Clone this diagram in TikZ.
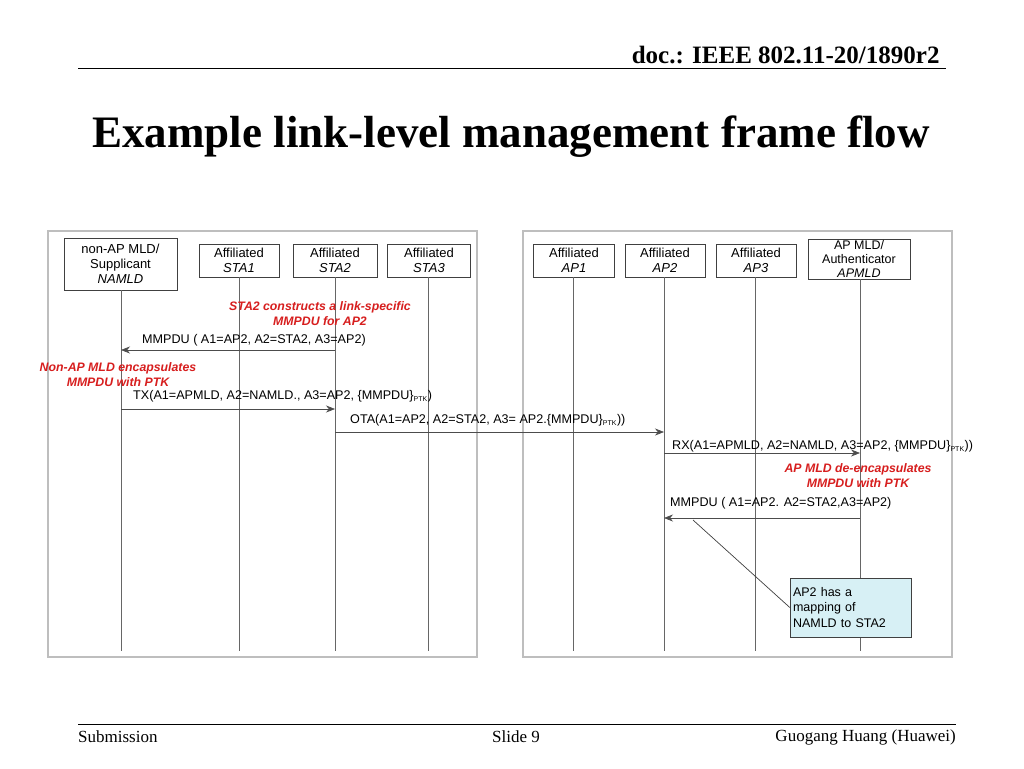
\documentclass[tikz,border=0pt]{standalone}
\usepackage{fontspec}
\setmainfont{Liberation Serif}
\newfontfamily\diag{Liberation Sans}
\usetikzlibrary{arrows, arrows.meta, positioning, calc}
\definecolor{redtxt}{RGB}{215,30,30}
\definecolor{notefill}{RGB}{215,240,245}
\definecolor{panelgray}{RGB}{190,190,190}
\tikzstyle{entity} = [rectangle, draw=black!75, fill=white, align=center, font=\diag\fontsize{13}{15}\selectfont, inner sep=1pt]
\tikzstyle{lifeline} = [draw=black!60, line width=0.6pt]
\tikzstyle{msg} = [black!70, line width=0.6pt, -{Stealth[length=9pt, width=7pt]}]
\tikzstyle{lbl} = [anchor=west, font=\diag\fontsize{12.6}{14}\selectfont, inner sep=0pt]
\tikzstyle{remark} = [text=redtxt, align=center, font=\diag\bfseries\itshape\fontsize{12.3}{15}\selectfont]
\tikzstyle{panel} = [draw=panelgray, line width=1.2pt, fill=white]

\begin{document}
\begin{tikzpicture}[x=1pt, y=-1pt]
    \useasboundingbox (0,0) rectangle (1024,768);
    % Header and title
    \node (doc) [anchor=east, font=\bfseries\fontsize{25}{28}\selectfont] at (943,55) {doc.: IEEE 802.11-20/1890r2};
    \draw [line width=1pt] (78,68) -- (946,68);
    \node (title) [font=\bfseries\fontsize{45}{50}\selectfont] at (511,137) {Example link-level management frame flow};

    % Panels
    \draw [panel] (48,231) rectangle (477,657);
    \draw [panel] (523,231) rectangle (952,657);

    % Entities
    \node (namld) [entity, minimum width=113pt, minimum height=52pt] at (120.5,264) {non-AP MLD/\\Supplicant\\\textit{NAMLD}};
    \node (sta1) [entity, minimum width=80pt, minimum height=33pt] at (239,260.5) {Affiliated\\\textit{STA1}};
    \node (sta2) [entity, minimum width=84pt, minimum height=33pt] at (335,260.5) {Affiliated\\\textit{STA2}};
    \node (sta3) [entity, minimum width=83pt, minimum height=33pt] at (429,260.5) {Affiliated\\\textit{STA3}};
    \node (ap1) [entity, minimum width=81pt, minimum height=33pt] at (574,260.5) {Affiliated\\\textit{AP1}};
    \node (ap2) [entity, minimum width=80pt, minimum height=33pt] at (665,260.5) {Affiliated\\\textit{AP2}};
    \node (ap3) [entity, minimum width=80pt, minimum height=33pt] at (756,260.5) {Affiliated\\\textit{AP3}};
    \node (apmld) [entity, minimum width=102pt, minimum height=40pt, font=\diag\fontsize{12.5}{14}\selectfont] at (859,259) {AP MLD/\\Authenticator\\\textit{APMLD}};

    % Lifelines
    \foreach \e/\x in {namld/121, sta1/239, sta2/335, sta3/428, ap1/573, ap2/664, ap3/755, apmld/860} {
        \coordinate (\e end) at (\x,651);
        \draw [lifeline] (\e.south -| \e end) -- (\e end);
    }

    % Messages
    \node (c1) [remark] at (320,314) {STA2 constructs a link-specific\\MMPDU for AP2};
    \node (m1) [lbl] at (142,340) {MMPDU ( A1=AP2, A2=STA2, A3=AP2)};
    \draw [msg] (sta2end |- 0,350) -- (namldend |- 0,350);

    \node (c2) [remark] at (118,375) {Non-AP MLD encapsulates\\MMPDU with PTK};
    \node (m2) [lbl] at (133,396) {TX(A1=APMLD, A2=NAMLD., A3=AP2, \{MMPDU\}\textsubscript{\scriptsize PTK})};
    \draw [msg] (namldend |- 0,409) -- (sta2end |- 0,409);

    \node (m3) [lbl] at (350,420) {OTA(A1=AP2, A2=STA2, A3= AP2.\{MMPDU\}\textsubscript{\scriptsize PTK}))};
    \draw [msg] (sta2end |- 0,432) -- (ap2end |- 0,432);

    \node (m4) [lbl] at (672,446) {RX(A1=APMLD, A2=NAMLD, A3=AP2, \{MMPDU\}\textsubscript{\scriptsize PTK}))};
    \draw [msg] (ap2end |- 0,453) -- (apmldend |- 0,453);

    \node (c3) [remark] at (858,476) {AP MLD de-encapsulates\\MMPDU with PTK};
    \node (m5) [lbl] at (670,503) {MMPDU ( A1=AP2. A2=STA2,A3=AP2)};
    \draw [msg] (apmldend |- 0,518) -- (ap2end |- 0,518);

    % Note
    \node (note) [draw=black!75, fill=notefill, minimum width=121pt, minimum height=59pt, align=left, font=\diag\fontsize{12.5}{15.5}\selectfont, text width=115pt, inner sep=3pt] at (850.5,607.5) {AP2 has a\\mapping of\\NAMLD to STA2};
    \coordinate (tip) at (693,520);
    \draw [black!75, line width=0.7pt] (tip) -- (note.west);

    % Footer
    \draw [line width=1pt] (78,724) -- (956,724);
    \node (sub) [anchor=west, inner sep=0pt, font=\fontsize{17}{19}\selectfont] at (78,737) {Submission};
    \node (slide) [font=\fontsize{17}{19}\selectfont] at (516,737) {Slide 9};
    \node (auth) [anchor=east, inner sep=0pt, font=\fontsize{17}{19}\selectfont] at (956,737) {Guogang Huang (Huawei)};
\end{tikzpicture}
\end{document}
